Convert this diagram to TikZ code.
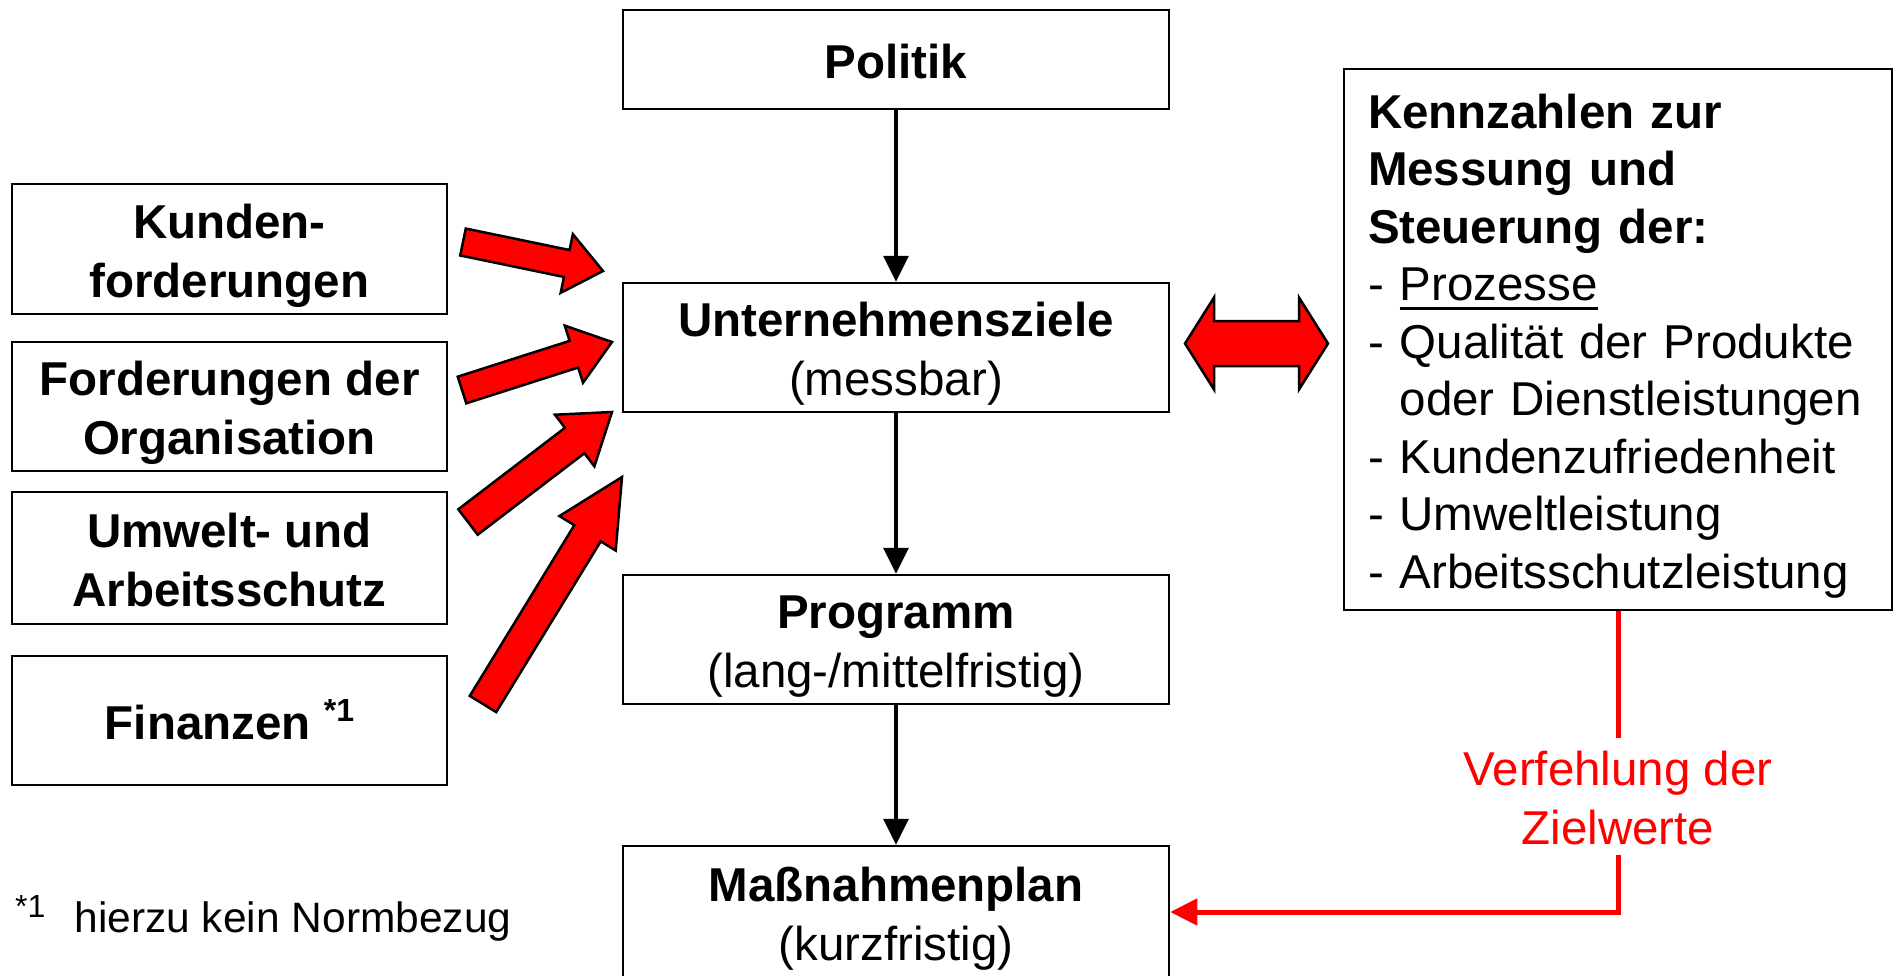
\documentclass[tikz,border=0pt]{standalone}
\usepackage{fontspec}
\setmainfont{Liberation Sans}
\usetikzlibrary{arrows.meta,calc}

% line strut with the ascent/descent of the face, so boxes centre like a slide layout
\newcommand\lstr{\rule[-0.212em]{0pt}{1.212em}}
\newcommand\txtbig{\fontsize{47.5}{57.5}\selectfont}
% thick underline set a little below the baseline
\newsavebox\ulinebox
\newcommand\thickul[1]{\sbox\ulinebox{#1}\rlap{\rule[-9pt]{\wd\ulinebox}{3pt}}\usebox\ulinebox}
% block arrow: #1 tail, #2 tip, #3 half shaft width, #4 half head width, #5 head length
\newcommand\fatarrow[5]{%
  \coordinate (fb) at ($(#2)!#5!(#1)$);
  \draw[fat] ($(#1)!#3!90:(#2)$) -- ($(fb)!#3!90:(#2)$) -- ($(fb)!#4!90:(#2)$) -- (#2)
    -- ($(fb)!#4!-90:(#2)$) -- ($(fb)!#3!-90:(#2)$) -- ($(#1)!#3!-90:(#2)$) -- cycle;}

\begin{document}
\begin{tikzpicture}[x=1pt,y=-1pt,
  box/.style={draw, line width=2.5pt, inner sep=0pt, align=center, font=\txtbig},
  midbox/.style={box, minimum width=546pt, minimum height=129pt},
  sidebox/.style={box, minimum width=435pt, minimum height=130pt},
  flow/.style={line width=3.5pt, -{Triangle[length=26pt,width=25pt]}},
  missline/.style={red, line width=5pt},
  fat/.style={fill=red, draw=black, line width=2.5pt, line join=miter}]
\path[use as bounding box] (0,0) rectangle (1894,975);
\clip (0,0) rectangle (1894,975);

% central chain
\node[box, minimum width=546pt, minimum height=99pt] (pol) at (896,59.5) {\lstr\textbf{Politik}};
\node[midbox] (uz) at (896,347.5) {\lstr\textbf{Unternehmensziele}\\(messbar)\lstr};
\node[midbox] (prog) at (896,639.5) {\lstr\textbf{Programm}\\(lang-/mittelfristig)\lstr};
\node[midbox, minimum height=132pt] (mp) at (896,912) {\lstr\textbf{Maßnahmenplan}\\(kurzfristig)\lstr};

\draw[flow] (pol) -- (uz);
\draw[flow] (uz) -- (prog);
\draw[flow] (prog) -- (mp);

% requirement inputs
\node[sidebox] (kf) at (229.5,249) {\lstr\textbf{Kunden-}\\\textbf{forderungen}\lstr};
\node[sidebox, minimum height=129pt] (fo) at (229.5,406.5) {\lstr\textbf{Forderungen der}\\\textbf{Organisation}\lstr};
\node[sidebox, minimum height=132pt] (ua) at (229.5,558) {\lstr\textbf{Umwelt- und}\\\textbf{Arbeitsschutz}\lstr};
\node[sidebox, minimum height=129pt] (fi) at (229.5,720.5) {\lstr\textbf{Finanzen \raisebox{18pt}{\fontsize{32}{32}\selectfont *1}}};

\coordinate (a1t) at (463,242); \coordinate (a1h) at (603,271);
\coordinate (a2t) at (462,390); \coordinate (a2h) at (612,342);
\coordinate (a3t) at (468,522); \coordinate (a3h) at (612,412);
\coordinate (a4t) at (483,704); \coordinate (a4h) at (622,477);
\fatarrow{a1t}{a1h}{13.75pt}{30pt}{37pt}
\fatarrow{a2t}{a2h}{14pt}{30pt}{40pt}
\fatarrow{a3t}{a3h}{16pt}{32.5pt}{47pt}
\fatarrow{a4t}{a4h}{15.5pt}{33pt}{66pt}

% key figures
\node[box, align=left, text width=500pt, inner xsep=24pt, minimum height=541pt] (kz) at (1618,339.5)
  {\lstr\textbf{Kennzahlen zur}\\
   \textbf{Messung und}\\
   \textbf{Steuerung der:}\\
   - \thickul{Prozesse}\\
   - Qualität der Produkte\\
   \hphantom{- }oder Dienstleistungen\\
   - Kundenzufriedenheit\\
   - Umweltleistung\\
   - Arbeitsschutzleistung\lstr};

% double block arrow between goals and key figures
\coordinate (da) at ($(uz.east)!0.5!(kz.west)$);
\draw[fat, shift={(da)}] (-71.5,0) -- (-42.5,-46) -- (-42.5,-22.5) -- (42.5,-22.5) -- (42.5,-46)
  -- (71.5,0) -- (42.5,46) -- (42.5,22.5) -- (-42.5,22.5) -- (-42.5,46) -- cycle;

% feedback on missed targets
\node[red, inner sep=0pt, align=center, font=\txtbig] (vf) at (1618,796.5) {\lstr Verfehlung der\\Zielwerte\lstr};
\draw[missline] (kz.south) -- (vf.north);
\draw[missline, -{Triangle[length=27pt,width=26pt]}] (vf.south) |- (mp.east);

% footnote
\node[anchor=base west, inner sep=0pt, font=\fontsize{42.5}{50}\selectfont] (fn) at (15,932)
  {\raisebox{15pt}{\fontsize{32}{32}\selectfont *1}\hspace{29pt}hierzu kein Normbezug};
\end{tikzpicture}
\end{document}
